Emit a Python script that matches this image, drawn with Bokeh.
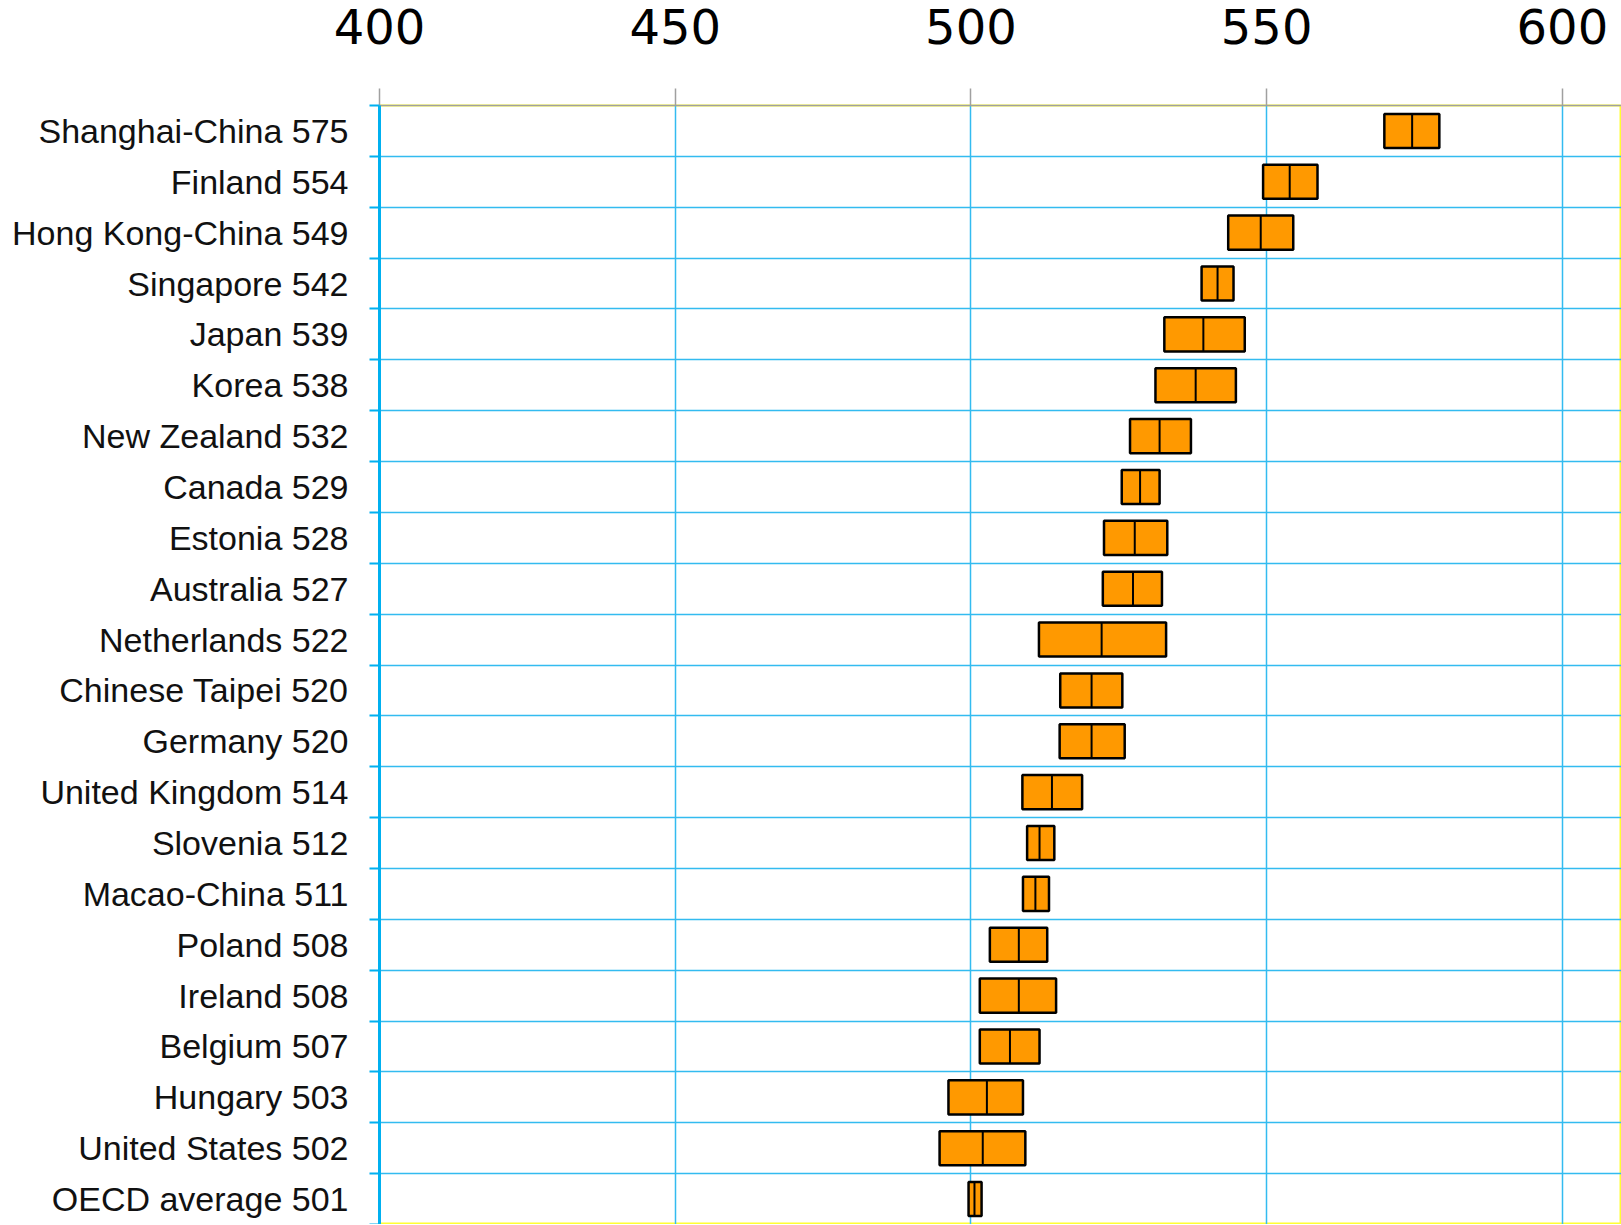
from bokeh.plotting import figure
from bokeh.models import Range1d, FixedTicker
from bokeh.embed import file_html
from bokeh.resources import INLINE

# ---- data ----
countries = ["Shanghai-China", "Finland", "Hong Kong-China", "Singapore", "Japan", "Korea",
             "New Zealand", "Canada", "Estonia", "Australia", "Netherlands", "Chinese Taipei",
             "Germany", "United Kingdom", "Slovenia", "Macao-China", "Poland", "Ireland",
             "Belgium", "Hungary", "United States", "OECD average"]
scores = [575, 554, 549, 542, 539, 538, 532, 529, 528, 527, 522, 520,
          520, 514, 512, 511, 508, 508, 507, 503, 502, 501]
means = [574.6, 553.9, 549.0, 541.7, 539.3, 538.0, 531.9, 528.6, 527.7, 527.4, 522.1, 520.4,
         520.4, 513.7, 511.6, 510.9, 508.1, 508.1, 506.6, 502.7, 502.0, 500.6]
ci_low = [569.9, 549.4, 543.5, 539.0, 532.7, 531.2, 526.9, 525.5, 522.5, 522.3, 511.5, 515.1,
          515.0, 508.7, 509.5, 508.8, 503.2, 501.5, 501.5, 496.2, 494.7, 499.6]
ci_high = [579.2, 558.6, 554.5, 544.4, 546.3, 544.8, 537.2, 531.9, 533.2, 532.3, 533.0, 525.6,
           526.0, 518.8, 514.1, 513.2, 512.9, 514.4, 511.6, 508.8, 509.2, 501.8]
x_ticks = [400, 450, 500, 550, 600]

n = len(countries)
ys = [n - 1 - i for i in range(n)]           # top row first
labels = {ys[i]: f"{countries[i]} {scores[i]}" for i in range(n)}
bounds = [k - 0.5 for k in range(n + 1)]

BLUE = "#00B0F0"
GRID = "#33BBF0"
ORANGE = "#FF9900"

W, H = 1621, 1224
p = figure(width=W, height=H, output_backend="svg", toolbar_location=None,
           x_axis_location="above",
           x_range=Range1d(400, 610.0), y_range=Range1d(-0.5, n - 0.5),
           min_border_left=379, min_border_top=105, min_border_right=0, min_border_bottom=0)

p.background_fill_color = "white"
p.border_fill_color = "white"
p.outline_line_color = "#FFFF33"
p.outline_line_width = 2

# top axis
xa = p.xaxis[0]
xa.ticker = FixedTicker(ticks=x_ticks)
xa.major_label_text_font = "DejaVu Sans"
xa.major_label_text_font_size = "48px"
xa.major_label_text_color = "black"
xa.major_label_standoff = 45
xa.major_tick_out = 17
xa.major_tick_in = 0
xa.major_tick_line_color = "#A0A0A0"
xa.major_tick_line_width = 1.5
xa.minor_tick_line_color = None
xa.axis_line_color = "#A0A0A0"
xa.axis_line_width = 1.5

# left axis: labels at row centres, ticks at row boundaries
ya = p.yaxis[0]
ya.ticker = FixedTicker(ticks=ys, minor_ticks=bounds)
ya.major_label_overrides = labels
ya.major_label_text_font = "Liberation Sans"
ya.major_label_text_font_size = "34px"
ya.major_label_text_color = "#111111"
ya.major_tick_line_color = None
ya.major_tick_out = 0
ya.major_tick_in = 0
ya.major_label_standoff = 21
ya.minor_tick_line_color = BLUE
ya.minor_tick_line_width = 2
ya.minor_tick_out = 10
ya.minor_tick_in = 0
ya.axis_line_color = BLUE
ya.axis_line_width = 3

# grids
p.xgrid.ticker = FixedTicker(ticks=x_ticks)
p.xgrid.grid_line_color = GRID
p.xgrid.grid_line_width = 1.5
p.ygrid.ticker = FixedTicker(ticks=bounds)
p.ygrid.grid_line_color = GRID
p.ygrid.grid_line_width = 1.5

# boxes (confidence intervals) and mean lines
bh = 0.67
p.hbar(y=ys, left=ci_low, right=ci_high, height=bh,
       fill_color=ORANGE, line_color="black", line_width=2.5)
p.segment(x0=means, x1=means, y0=[y - bh / 2 for y in ys], y1=[y + bh / 2 for y in ys],
          line_color="black", line_width=2)

open("out.html", "w").write(file_html(p, INLINE))
